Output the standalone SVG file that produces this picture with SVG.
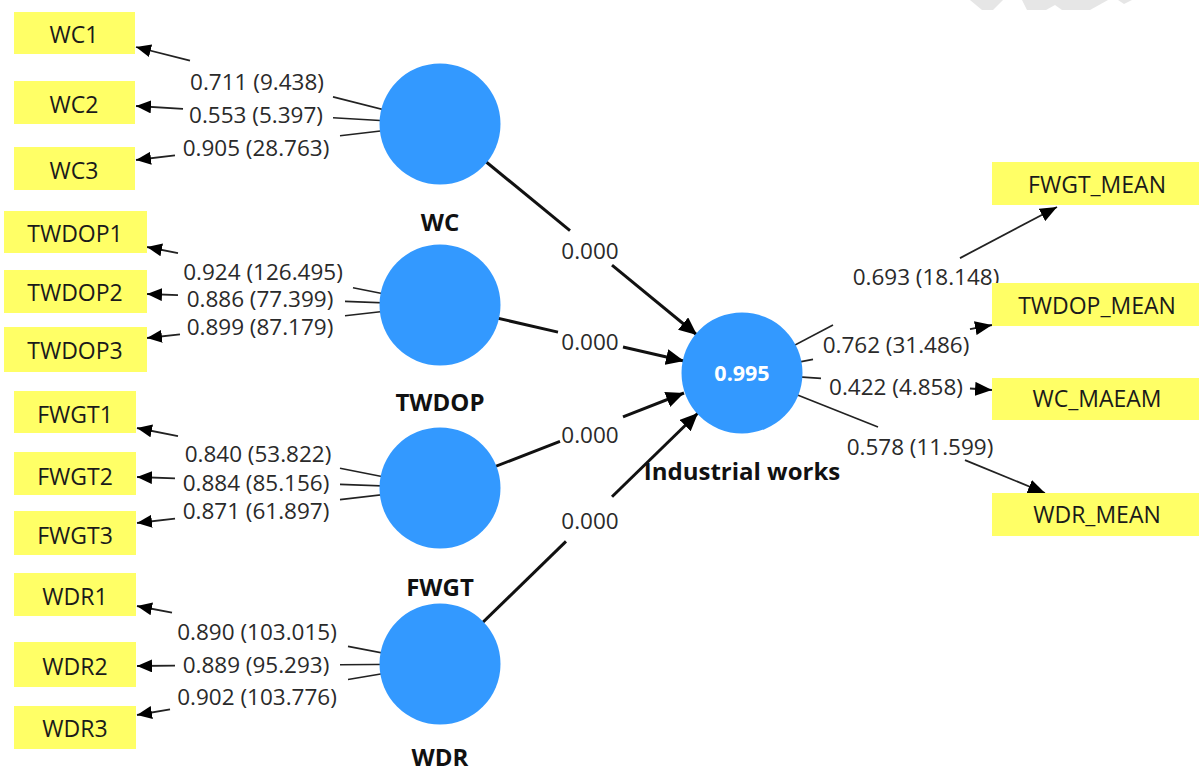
<svg xmlns="http://www.w3.org/2000/svg" width="1200" height="772" viewBox="0 0 1200 772">
  <style>
    .ind rect { fill: #ffff66; }
    .ind text { font-family: "Open Sans", "Liberation Sans", sans-serif; font-size: 23px; fill: #1a1a1a; text-anchor: middle; }
    .lv circle { fill: #3399ff; }
    .lv text.name { font-family: "Open Sans", "Liberation Sans", sans-serif; font-size: 24px; font-weight: bold; fill: #111; text-anchor: middle; }
    .lv text.r2 { font-family: "Open Sans", "Liberation Sans", sans-serif; font-size: 21.5px; font-weight: bold; fill: #ffffff; text-anchor: middle; }
    .lbl { font-family: "Open Sans", "Liberation Sans", sans-serif; font-size: 22.5px; fill: #2a2a2a; text-anchor: middle; }
    .path { stroke: #111; stroke-width: 3; fill: none; }
    .outer { stroke: #222; stroke-width: 1.6; fill: none; }
    .load { stroke: #222; stroke-width: 1.8; fill: none; }
    .wm { fill: #e6e6e6; }
  </style>
  <defs>
    <marker id="arrowLg" viewBox="0 0 18 16" refX="18" refY="8" markerWidth="18" markerHeight="16" markerUnits="userSpaceOnUse" orient="auto">
      <path d="M0,0 L18,8 L0,16 z" fill="#000"/>
    </marker>
    <marker id="arrowMd" viewBox="0 0 17 14" refX="17" refY="7" markerWidth="17" markerHeight="14" markerUnits="userSpaceOnUse" orient="auto">
      <path d="M0,0 L17,7 L0,14 z" fill="#000"/>
    </marker>
    <marker id="arrowSm" viewBox="0 0 15 13" refX="15" refY="6.5" markerWidth="15" markerHeight="13" markerUnits="userSpaceOnUse" orient="auto">
      <path d="M0,0 L15,6.5 L0,13 z" fill="#000"/>
    </marker>
  </defs>

  <rect width="1200" height="772" fill="#ffffff"/>

  <!-- faint background mark, top right -->
  <g id="backdrop-mark">
    <polygon class="wm" points="970,0 1003,0 993,10 982,10"/>
    <polygon class="wm" points="1022,0 1108,0 1090,10 1062,10 1055,5 1046,10 1027,10"/>
    <polygon class="wm" points="1118,0 1132,0 1124,4"/>
  </g>

  <!-- connectors -->
  <g id="connectors">
    <!-- outer loadings: WC -->
    <line class="outer" x1="440" y1="124" x2="333" y2="96.9"/>
    <line class="load" x1="190" y1="60.7" x2="136" y2="47" marker-end="url(#arrowSm)"/>
    <line class="outer" x1="440" y1="124" x2="333" y2="117.7"/>
    <line class="load" x1="183" y1="108.8" x2="136" y2="106" marker-end="url(#arrowSm)"/>
    <line class="outer" x1="440" y1="124" x2="340" y2="135.8"/>
    <line class="load" x1="175" y1="155.4" x2="136" y2="160" marker-end="url(#arrowSm)"/>
    <!-- outer loadings: TWDOP -->
    <line class="outer" x1="440" y1="305" x2="353" y2="287.8"/>
    <line class="load" x1="178" y1="253.1" x2="147" y2="247" marker-end="url(#arrowSm)"/>
    <line class="outer" x1="440" y1="305" x2="345" y2="301.4"/>
    <line class="load" x1="178" y1="295.2" x2="147" y2="294" marker-end="url(#arrowSm)"/>
    <line class="outer" x1="440" y1="305" x2="345" y2="315.7"/>
    <line class="load" x1="180" y1="334.3" x2="147" y2="338" marker-end="url(#arrowSm)"/>
    <!-- outer loadings: FWGT -->
    <line class="outer" x1="440" y1="488" x2="340" y2="468.2"/>
    <line class="load" x1="178" y1="436.1" x2="137" y2="428" marker-end="url(#arrowSm)"/>
    <line class="outer" x1="440" y1="488" x2="340" y2="484.4"/>
    <line class="load" x1="175" y1="478.4" x2="137" y2="477" marker-end="url(#arrowSm)"/>
    <line class="outer" x1="440" y1="488" x2="340" y2="499.6"/>
    <line class="load" x1="175" y1="518.6" x2="137" y2="523" marker-end="url(#arrowSm)"/>
    <!-- outer loadings: WDR -->
    <line class="outer" x1="440" y1="664" x2="348" y2="646.4"/>
    <line class="load" x1="172" y1="612.7" x2="137" y2="606" marker-end="url(#arrowSm)"/>
    <line class="outer" x1="440" y1="664" x2="340" y2="664.7"/>
    <line class="load" x1="175" y1="665.7" x2="137" y2="666" marker-end="url(#arrowSm)"/>
    <line class="outer" x1="440" y1="664" x2="348" y2="679.5"/>
    <line class="load" x1="170" y1="709.4" x2="137" y2="715" marker-end="url(#arrowSm)"/>

    <!-- structural paths into Industrial works -->
    <line class="path" x1="440" y1="124" x2="570" y2="230.7"/>
    <line class="path" x1="612" y1="265.2" x2="697" y2="335" marker-end="url(#arrowLg)"/>
    <line class="path" x1="440" y1="305" x2="558" y2="332.1"/>
    <line class="path" x1="623" y1="347" x2="684" y2="361" marker-end="url(#arrowLg)"/>
    <line class="path" x1="440" y1="488" x2="560" y2="441.3"/>
    <line class="path" x1="623" y1="416.8" x2="684" y2="393" marker-end="url(#arrowLg)"/>
    <line class="path" x1="440" y1="664" x2="566" y2="541.4"/>
    <line class="path" x1="612" y1="496.7" x2="698" y2="413" marker-end="url(#arrowLg)"/>

    <!-- outer loadings of Industrial works -->
    <line class="outer" x1="742" y1="373" x2="833" y2="325"/>
    <line class="load" x1="960" y1="258.1" x2="1057" y2="207" marker-end="url(#arrowMd)"/>
    <line class="outer" x1="742" y1="373" x2="813" y2="359.4"/>
    <line class="load" x1="970" y1="329.2" x2="992" y2="325" marker-end="url(#arrowMd)"/>
    <line class="outer" x1="742" y1="373" x2="821" y2="378.4"/>
    <line class="load" x1="970" y1="388.5" x2="992" y2="390" marker-end="url(#arrowMd)"/>
    <line class="outer" x1="742" y1="373" x2="878" y2="426.9"/>
    <line class="load" x1="965" y1="460.1" x2="1045" y2="493" marker-end="url(#arrowMd)"/>

    <!-- connector labels -->
    <text class="lbl" x="257" y="90">0.711 (9.438)</text>
    <text class="lbl" x="256" y="123">0.553 (5.397)</text>
    <text class="lbl" x="256" y="156">0.905 (28.763)</text>
    <text class="lbl" x="263" y="280">0.924 (126.495)</text>
    <text class="lbl" x="260" y="307">0.886 (77.399)</text>
    <text class="lbl" x="260" y="335">0.899 (87.179)</text>
    <text class="lbl" x="258" y="462">0.840 (53.822)</text>
    <text class="lbl" x="256" y="491">0.884 (85.156)</text>
    <text class="lbl" x="256" y="519">0.871 (61.897)</text>
    <text class="lbl" x="257" y="640">0.890 (103.015)</text>
    <text class="lbl" x="256" y="673">0.889 (95.293)</text>
    <text class="lbl" x="257" y="705">0.902 (103.776)</text>
    <text class="lbl" x="590" y="259">0.000</text>
    <text class="lbl" x="590" y="350">0.000</text>
    <text class="lbl" x="590" y="443">0.000</text>
    <text class="lbl" x="590" y="529">0.000</text>
    <text class="lbl" x="926" y="285">0.693 (18.148)</text>
    <text class="lbl" x="896" y="353">0.762 (31.486)</text>
    <text class="lbl" x="896" y="395">0.422 (4.858)</text>
    <text class="lbl" x="920" y="455">0.578 (11.599)</text>
  </g>

  <!-- latent variables -->
  <g id="lv-wc" class="lv">
    <circle cx="440" cy="124" r="60.5"/>
    <text class="name" x="440" y="231">WC</text>
  </g>
  <g id="lv-twdop" class="lv">
    <circle cx="440" cy="305" r="60.5"/>
    <text class="name" x="440" y="411">TWDOP</text>
  </g>
  <g id="lv-fwgt" class="lv">
    <circle cx="440" cy="488" r="60.5"/>
    <text class="name" x="440" y="596">FWGT</text>
  </g>
  <g id="lv-wdr" class="lv">
    <circle cx="440" cy="664" r="60.5"/>
    <text class="name" x="440" y="766">WDR</text>
  </g>
  <g id="lv-industrial-works" class="lv">
    <circle cx="742" cy="373" r="60.5"/>
    <text class="r2" x="742" y="381">0.995</text>
    <text class="name" x="742" y="480">Industrial works</text>
  </g>

  <!-- indicators -->
  <g id="ind-wc1" class="ind"><rect x="14" y="12" width="121" height="42"/><text x="74" y="43">WC1</text></g>
  <g id="ind-wc2" class="ind"><rect x="14" y="81" width="121" height="43"/><text x="74" y="113">WC2</text></g>
  <g id="ind-wc3" class="ind"><rect x="14" y="147" width="121" height="43"/><text x="74" y="179">WC3</text></g>

  <g id="ind-twdop1" class="ind"><rect x="4" y="211" width="143" height="42"/><text x="75" y="242">TWDOP1</text></g>
  <g id="ind-twdop2" class="ind"><rect x="4" y="270" width="143" height="43"/><text x="75" y="301">TWDOP2</text></g>
  <g id="ind-twdop3" class="ind"><rect x="4" y="327" width="143" height="45"/><text x="75" y="359">TWDOP3</text></g>

  <g id="ind-fwgt1" class="ind"><rect x="14" y="391" width="122" height="42"/><text x="75" y="423">FWGT1</text></g>
  <g id="ind-fwgt2" class="ind"><rect x="14" y="452" width="122" height="43"/><text x="75" y="485">FWGT2</text></g>
  <g id="ind-fwgt3" class="ind"><rect x="14" y="511" width="122" height="44"/><text x="75" y="544">FWGT3</text></g>

  <g id="ind-wdr1" class="ind"><rect x="14" y="573" width="122" height="43"/><text x="75" y="605">WDR1</text></g>
  <g id="ind-wdr2" class="ind"><rect x="14" y="642" width="122" height="45"/><text x="75" y="675">WDR2</text></g>
  <g id="ind-wdr3" class="ind"><rect x="14" y="706" width="122" height="43"/><text x="75" y="737">WDR3</text></g>

  <g id="ind-fwgt-mean" class="ind"><rect x="992" y="162" width="207" height="43"/><text x="1097" y="193">FWGT_MEAN</text></g>
  <g id="ind-twdop-mean" class="ind"><rect x="992" y="283" width="207" height="43"/><text x="1097" y="314">TWDOP_MEAN</text></g>
  <g id="ind-wc-maeam" class="ind"><rect x="992" y="378" width="207" height="42"/><text x="1097" y="407">WC_MAEAM</text></g>
  <g id="ind-wdr-mean" class="ind"><rect x="992" y="493" width="207" height="43"/><text x="1097" y="523">WDR_MEAN</text></g>
</svg>
